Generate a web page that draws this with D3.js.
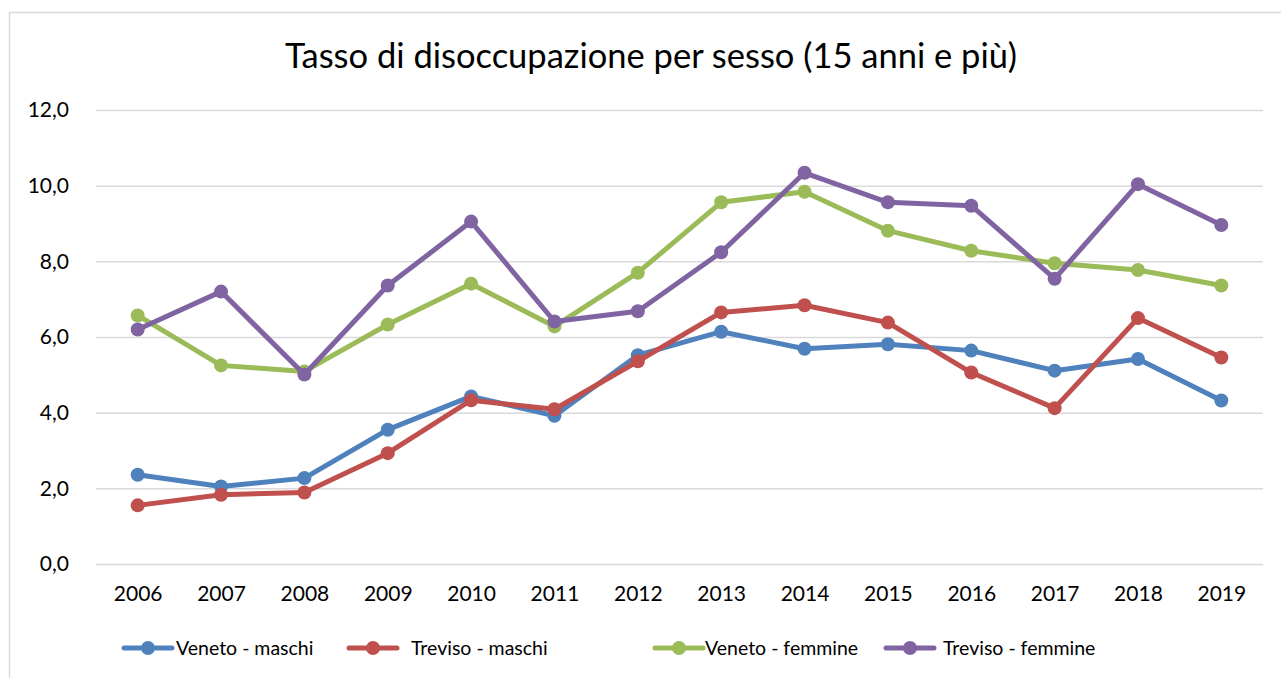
<!DOCTYPE html>
<html>
<head>
<meta charset="utf-8">
<script src="https://cdn.jsdelivr.net/npm/d3@7"></script>
<style>
  body { margin: 0; background: #fff; }
  text { font-family: Lato, "Open Sans", sans-serif; fill: #000; }
</style>
</head>
<body>
<div id="chart"></div>
<script>
// chart data
const years = ["2006", "2007", "2008", "2009", "2010", "2011", "2012", "2013", "2014", "2015", "2016", "2017", "2018", "2019"];
const venetoMaschi   = [2.36, 2.05, 2.27, 3.55, 4.43, 3.92, 5.52, 6.14, 5.69, 5.81, 5.64, 5.11, 5.42, 4.32];
const trevisoMaschi  = [1.55, 1.83, 1.89, 2.93, 4.33, 4.09, 5.36, 6.65, 6.84, 6.38, 5.06, 4.12, 6.50, 5.46];
const venetoFemmine  = [6.57, 5.25, 5.09, 6.33, 7.41, 6.28, 7.70, 9.56, 9.84, 8.81, 8.28, 7.95, 7.77, 7.36];
const trevisoFemmine = [6.20, 7.20, 5.01, 7.36, 9.05, 6.41, 6.68, 8.24, 10.34, 9.56, 9.47, 7.54, 10.04, 8.96];
const yTicks = [0, 2, 4, 6, 8, 10, 12];

const seriesNames = ["Veneto - maschi", "Treviso - maschi", "Veneto - femmine", "Treviso - femmine"];
const seriesValues = [venetoMaschi, trevisoMaschi, venetoFemmine, trevisoFemmine];
const colors = ["#4F81BD", "#C0504D", "#9BBB59", "#8064A2"];

const width = 1281;
const height = 678;
const margin = { top: 110, right: 18, bottom: 114, left: 96 };

const svg = d3.select("#chart").append("svg")
    .attr("width", width)
    .attr("height", height);

// chart frame
svg.append("rect")
    .attr("x", 9.5).attr("y", 12.5)
    .attr("width", width + 10).attr("height", height + 10)
    .attr("fill", "none")
    .attr("stroke", "#d9d9d9")
    .attr("stroke-width", 1.5);

const x = d3.scalePoint()
    .domain(years)
    .range([margin.left, width - margin.right])
    .padding(0.5);

const y = d3.scaleLinear()
    .domain([0, 12])
    .range([height - margin.bottom, margin.top]);

const it = d3.formatLocale({ decimal: ",", thousands: ".", grouping: [3], currency: ["", "€"] });
const fmt = it.format(".1f");

// gridlines + y labels
const yAxis = svg.append("g")
    .attr("transform", `translate(${margin.left},0)`)
    .call(d3.axisLeft(y).tickValues(yTicks).tickFormat(fmt)
        .tickSize(-(width - margin.left - margin.right)).tickPadding(27));
yAxis.select(".domain").remove();
yAxis.selectAll(".tick line").attr("stroke", "#d9d9d9").attr("stroke-width", 1.5);
yAxis.selectAll(".tick text").attr("font-size", 21).attr("font-family", "Lato");

// x labels
const xAxis = svg.append("g")
    .attr("transform", `translate(0,${height - margin.bottom})`)
    .call(d3.axisBottom(x).tickSize(0).tickPadding(22));
xAxis.select(".domain").remove();
xAxis.selectAll(".tick text").attr("font-size", 21).attr("font-family", "Lato");

// title
svg.append("text")
    .attr("x", 651).attr("y", 68)
    .attr("text-anchor", "middle")
    .attr("font-size", 34.5)
    .text("Tasso di disoccupazione per sesso (15 anni e più)");

// lines
const line = d3.line()
    .x((d, i) => x(years[i]))
    .y(d => y(d));

seriesValues.forEach((vals, k) => {
    const g = svg.append("g");
    g.append("path")
        .datum(vals)
        .attr("d", line)
        .attr("fill", "none")
        .attr("stroke", colors[k])
        .attr("stroke-width", 5)
        .attr("stroke-linejoin", "round");
    g.selectAll("circle")
        .data(vals)
        .enter().append("circle")
        .attr("cx", (d, i) => x(years[i]))
        .attr("cy", d => y(d))
        .attr("r", 7)
        .attr("fill", colors[k]);
});

// legend
const legendX = [124, 349, 655, 886];
const legendTextX = [176, 411, 705, 943];
const legendY = 648;
const legend = svg.append("g");
seriesNames.forEach((name, k) => {
    legend.append("line")
        .attr("x1", legendX[k]).attr("x2", legendX[k] + 48)
        .attr("y1", legendY).attr("y2", legendY)
        .attr("stroke", colors[k]).attr("stroke-width", 5)
        .attr("stroke-linecap", "round");
    legend.append("circle")
        .attr("cx", legendX[k] + 24).attr("cy", legendY)
        .attr("r", 7).attr("fill", colors[k]);
    legend.append("text")
        .attr("x", legendTextX[k]).attr("y", legendY + 7)
        .attr("font-size", 19.5)
        .text(name);
});
</script>
</body>
</html>
